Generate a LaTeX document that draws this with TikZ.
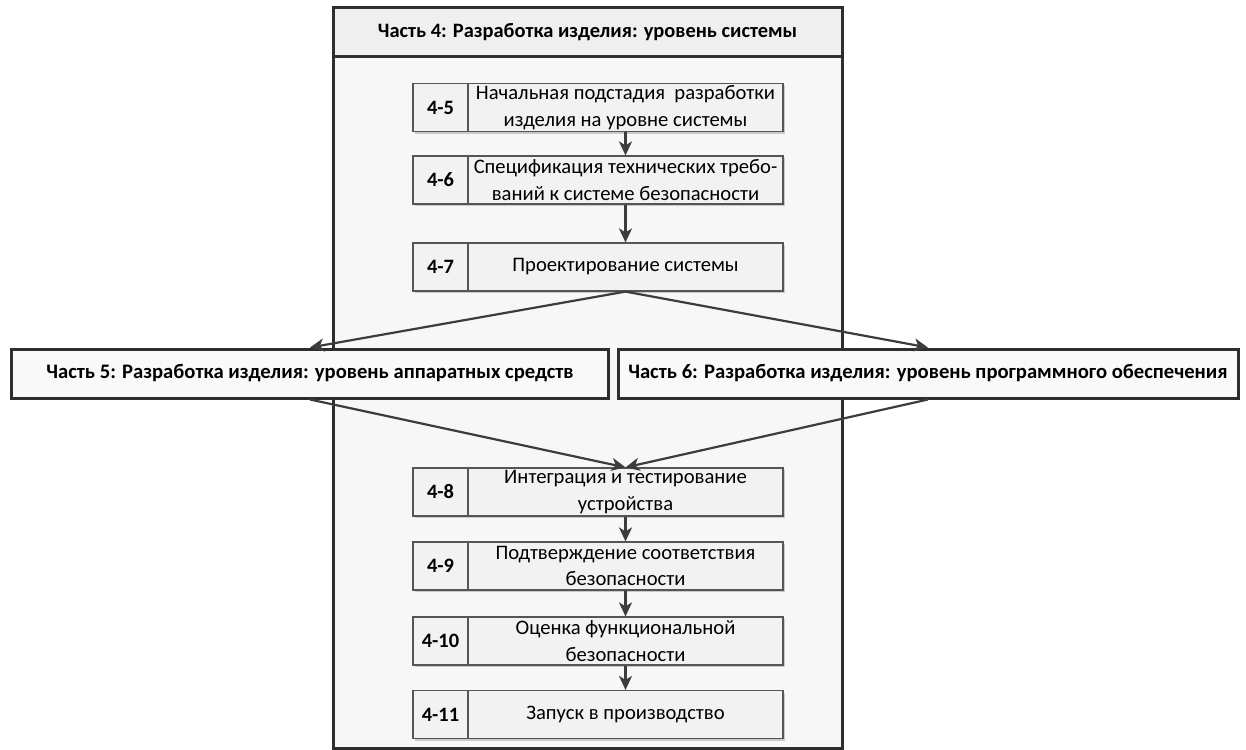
\documentclass[tikz,border=0pt]{standalone}
\usepackage{fontspec}
\setmainfont{Carlito}
\usetikzlibrary{shadows,arrows.meta}
\definecolor{edge}{HTML}{2E2E2E}
\definecolor{cellline}{HTML}{555555}
\definecolor{outerfill}{HTML}{F7F7F7}
\definecolor{titlefill}{HTML}{EFEFEF}
\definecolor{cellfill}{HTML}{F2F2F2}
\definecolor{partfill}{HTML}{F9F9F9}
\definecolor{arrowcol}{HTML}{3C3C3C}
\tikzset{
  bigframe/.style={draw=edge, line width=3bp},
  numcell/.style={draw=cellline, fill=cellfill, line width=1.2bp, minimum width=55bp, minimum height=48bp, inner sep=0pt,
    font=\bfseries\fontsize{20.5}{24}\selectfont,
    drop shadow={shadow xshift=2bp, shadow yshift=-2bp, fill=black, opacity=0.18}},
  txtcell/.style={draw=cellline, fill=cellfill, line width=1.2bp, minimum width=315bp, minimum height=48bp, inner sep=0pt,
    align=center, font=\fontsize{20.7}{27}\selectfont,
    drop shadow={shadow xshift=2bp, shadow yshift=-2bp, fill=black, opacity=0.18}},
  partbox/.style={bigframe, fill=partfill, minimum height=49bp, inner sep=0pt, font=\bfseries\fontsize{20.7}{24}\selectfont},
  flow/.style={draw=arrowcol, line width=2.2bp, -{Stealth[length=14bp, width=13bp, inset=4bp]}}
}
\begin{document}
\begin{tikzpicture}[x=1bp,y=-1bp]
\useasboundingbox (0,0) rectangle (1246,750);
\fill[white] (0,0) rectangle (1246,750);
% outer frame and title
\draw[bigframe, fill=outerfill] (333,8) rectangle (842,748);
\node[bigframe, fill=titlefill, minimum width=509bp, minimum height=49bp, inner sep=0pt,
  font=\bfseries\fontsize{20.5}{24}\selectfont] (title) at (587.5,32.5) {Часть 4: Разработка изделия: уровень системы};
% steps
\node[numcell] (n45) at (440.5,107.5) {4-5};
\node[txtcell] (s45) at (625.5,107.5) {Начальная подстадия\ \ разработки\\изделия на уровне системы};
\node[numcell] (n46) at (440.5,180) {4-6};
\node[txtcell] (s46) at (625.5,180) {Спецификация технических требо-\\ваний к системе безопасности};
\node[numcell] (n47) at (440.5,267) {4-7};
\node[txtcell] (s47) at (625.5,267) {Проектирование системы};
\node[numcell] (n48) at (440.5,492) {4-8};
\node[txtcell] (s48) at (625.5,492) {Интеграция и тестирование\\устройства};
\node[numcell] (n49) at (440.5,566) {4-9};
\node[txtcell] (s49) at (625.5,566) {Подтверждение соответствия\\безопасности};
\node[numcell] (n410) at (440.5,641) {4-10};
\node[txtcell] (s410) at (625.5,641) {Оценка функциональной\\безопасности};
\node[numcell] (n411) at (440.5,714.5) {4-11};
\node[txtcell] (s411) at (625.5,714.5) {Запуск в производство};
% parts
\node[partbox, minimum width=596bp] (p5) at (310,373.5) {Часть 5: Разработка изделия: уровень аппаратных средств};
\node[partbox, minimum width=620bp] (p6) at (928,373.5) {Часть 6: Разработка изделия: уровень программного обеспечения};
% connectors
\draw[flow] (s45.south) -- (s46.north);
\draw[flow] (s46.south) -- (s47.north);
\draw[flow] (s47.south) -- (p5.north);
\draw[flow] (s47.south) -- (p6.north);
\draw[flow] (p5.south) -- (s48.north);
\draw[flow] (p6.south) -- (s48.north);
\draw[flow] (s48.south) -- (s49.north);
\draw[flow] (s49.south) -- (s410.north);
\draw[flow] (s410.south) -- (s411.north);
\end{tikzpicture}
\end{document}
